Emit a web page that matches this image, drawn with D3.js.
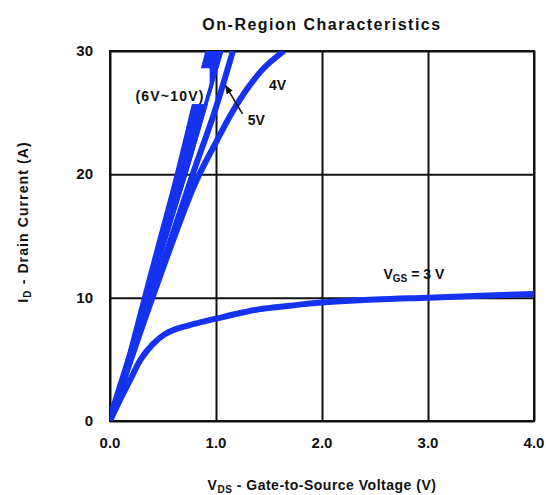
<!DOCTYPE html>
<html>
<head>
<meta charset="utf-8">
<script src="https://cdn.jsdelivr.net/npm/d3@7"></script>
<style>
  html, body { margin: 0; padding: 0; background: #fff; overflow: hidden; }
  svg { display: block; }
  text { font-family: "Liberation Sans", Arial, sans-serif; font-weight: bold; fill: #111; }
</style>
</head>
<body>
<script>
// values
var xTicks = [0, 1, 2, 3, 4];
var xTickLabels = ["0.0", "1.0", "2.0", "3.0", "4.0"];
var yTicks = [0, 10, 20, 30];

// VGS = 3V
var vds3V = [0, 0.1, 0.2, 0.29, 0.40, 0.52, 0.62, 0.72, 0.85, 1.0, 1.2, 1.4, 1.7, 2.0, 2.5, 3.0, 3.5, 4.0];
var id3V  = [0, 1.8, 3.5, 5.0, 6.2, 7.05, 7.45, 7.7, 8.0, 8.3, 8.7, 9.05, 9.35, 9.6, 9.85, 10.0, 10.15, 10.3];

// VGS = 4V
var vds4V = [0, 0.40, 0.80, 1.0, 1.15, 1.3, 1.45, 1.64];
var id4V  = [0, 10, 19.2, 22.6, 25.0, 27.0, 28.6, 30];

// VGS = 5V
var vds5V = [0, 0.39, 0.78, 0.98, 1.16];
var id5V  = [0, 10, 20, 24.9, 30];

// 6V~10V band (edges as a function of current)
var bandId  = [0, 10, 20, 25.6, 30];
var band10V = [0, 0.30, 0.61, 0.77, 0.90];
var band6V  = [0, 0.37, 0.73, 0.92, 1.07];

var blue = "#1432f0";
var width = 546, height = 495;
var margin = {top: 51, right: 12, bottom: 74, left: 110};
var innerWidth = width - margin.left - margin.right;
var innerHeight = height - margin.top - margin.bottom;

var svg = d3.select("body").append("svg")
    .attr("width", width)
    .attr("height", height);

// page coordinates straight from the scales
var xScale = d3.scaleLinear().domain([0, 4]).range([margin.left, margin.left + innerWidth]);
var yScale = d3.scaleLinear().domain([0, 30]).range([margin.top + innerHeight, margin.top]);

svg.append("text")
    .attr("x", margin.left + innerWidth / 2)
    .attr("y", 30)
    .attr("text-anchor", "middle")
    .attr("font-size", 16)
    .attr("letter-spacing", 1.5)
    .text("On-Region Characteristics");

svg.append("defs").append("clipPath").attr("id", "plot")
  .append("rect")
    .attr("x", margin.left).attr("y", margin.top)
    .attr("width", innerWidth).attr("height", innerHeight);

// grid
var xAxis = d3.axisBottom(xScale).tickValues(xTicks).tickSize(-innerHeight).tickFormat("");
var yAxis = d3.axisLeft(yScale).tickValues(yTicks).tickSize(-innerWidth).tickFormat("");
var grid = svg.append("g");
grid.append("g").attr("transform", `translate(0,${margin.top + innerHeight})`).call(xAxis);
grid.append("g").attr("transform", `translate(${margin.left},0)`).call(yAxis);
grid.selectAll(".domain").remove();
grid.selectAll(".tick line").attr("stroke", "#111").attr("stroke-width", 2);
grid.append("rect")
    .attr("x", margin.left).attr("y", margin.top)
    .attr("width", innerWidth).attr("height", innerHeight)
    .attr("fill", "none").attr("stroke", "#111").attr("stroke-width", 2);

// tick labels
svg.selectAll(".xlab").data(xTicks).enter().append("text")
    .attr("class", "xlab")
    .attr("x", d => xScale(d))
    .attr("y", margin.top + innerHeight + 27)
    .attr("text-anchor", "middle")
    .attr("font-size", 15)
    .text((d, i) => xTickLabels[i]);

svg.selectAll(".ylab").data(yTicks).enter().append("text")
    .attr("class", "ylab")
    .attr("x", margin.left - 17)
    .attr("y", d => yScale(d) + 5)
    .attr("text-anchor", "end")
    .attr("font-size", 15)
    .text(d => d);

// curves
var plot = svg.append("g").attr("clip-path", "url(#plot)");

var band = bandId.map((d, i) => ({i: d, lo: band10V[i], hi: band6V[i]}));
plot.append("path")
    .datum(band)
    .attr("fill", blue)
    .attr("d", d3.area()
        .y(d => yScale(d.i))
        .x0(d => xScale(d.lo))
        .x1(d => xScale(d.hi))
        .curve(d3.curveCatmullRom));

// white box behind the band label
plot.append("rect")
    .attr("x", xScale(0.2)).attr("y", yScale(28.6))
    .attr("width", xScale(0.94) - xScale(0.2))
    .attr("height", yScale(25.7) - yScale(28.6))
    .attr("fill", "#fff");

var line = d3.line()
    .x(d => xScale(d[0]))
    .y(d => yScale(d[1]))
    .curve(d3.curveCatmullRom);

// right edge of the band stays visible through the label box
plot.append("path")
    .datum(band.map(d => [d.hi - 0.02, d.i]))
    .attr("fill", "none").attr("stroke", blue).attr("stroke-width", 4)
    .attr("d", line);

[[vds5V, id5V], [vds4V, id4V], [vds3V, id3V]].forEach(function (s) {
  plot.append("path")
      .datum(s[0].map((v, i) => [v, s[1][i]]))
      .attr("fill", "none")
      .attr("stroke", blue)
      .attr("stroke-width", 6)
      .attr("stroke-linejoin", "round")
      .attr("d", line);
});

// labels
svg.append("text")
    .attr("x", xScale(0.24)).attr("y", yScale(25.95))
    .attr("font-size", 14)
    .attr("letter-spacing", 1.2)
    .text("(6V~10V)");

svg.append("text")
    .attr("x", xScale(1.5)).attr("y", yScale(26.85))
    .attr("font-size", 14)
    .text("4V");

svg.append("text")
    .attr("x", xScale(1.3)).attr("y", yScale(24.0))
    .attr("font-size", 14)
    .text("5V");

svg.select("defs").append("marker")
    .attr("id", "arrow")
    .attr("viewBox", "0 0 10 10")
    .attr("refX", 9).attr("refY", 5)
    .attr("markerWidth", 6).attr("markerHeight", 6)
    .attr("orient", "auto")
  .append("path").attr("d", "M0,1L10,5L0,9z").attr("fill", "#111");

svg.append("line")
    .attr("x1", xScale(1.25)).attr("y1", yScale(24.9))
    .attr("x2", xScale(1.09)).attr("y2", yScale(27.2))
    .attr("stroke", "#111").attr("stroke-width", 1.5)
    .attr("marker-end", "url(#arrow)");

var vgs = svg.append("text")
    .attr("x", xScale(2.58)).attr("y", yScale(11.55))
    .attr("font-size", 14);
vgs.append("tspan").text("V");
vgs.append("tspan").attr("font-size", 10).attr("dy", 3).text("GS");
vgs.append("tspan").attr("dy", -3).text(" = 3 V");

// axis titles
var xt = svg.append("text")
    .attr("x", margin.left + innerWidth / 2)
    .attr("y", 490)
    .attr("text-anchor", "middle")
    .attr("font-size", 14)
    .attr("letter-spacing", 0.5);
xt.append("tspan").text("V");
xt.append("tspan").attr("font-size", 10).attr("dy", 3).text("DS");
xt.append("tspan").attr("dy", -3).text(" - Gate-to-Source Voltage (V)");

var yt = svg.append("text")
    .attr("transform", "translate(28,222) rotate(-90)")
    .attr("text-anchor", "middle")
    .attr("font-size", 14)
    .attr("letter-spacing", 1.1);
yt.append("tspan").text("I");
yt.append("tspan").attr("font-size", 10).attr("dy", 3).text("D");
yt.append("tspan").attr("dy", -3).text(" - Drain Current (A)");
</script>
</body>
</html>
